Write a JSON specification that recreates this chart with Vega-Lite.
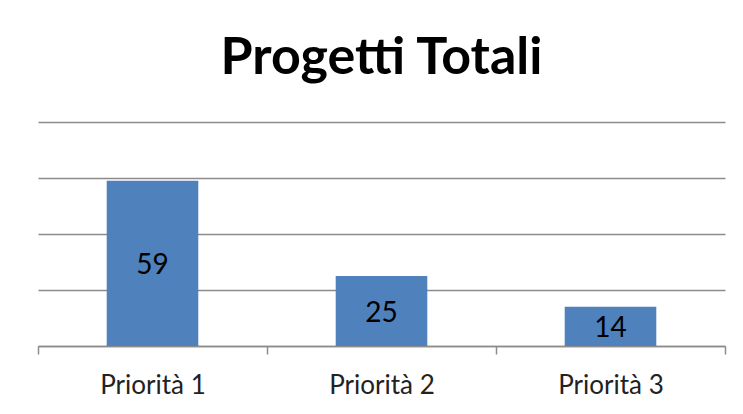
{
  "$schema": "https://vega.github.io/schema/vega-lite/v6.json",
  "width": 687,
  "height": 224,
  "autosize": {"type": "none"},
  "padding": {"left": 38, "top": 122, "right": 18, "bottom": 68},
  "background": "white",
  "title": {
    "text": "Progetti Totali",
    "font": "Lato",
    "fontSize": 52,
    "fontWeight": "bold",
    "color": "#000000",
    "anchor": "middle",
    "baseline": "alphabetic",
    "offset": 46,
    "dy": 50
  },
  "data": {
    "values": [
      {"categoria": "Priorità 1", "progetti": 59},
      {"categoria": "Priorità 2", "progetti": 25},
      {"categoria": "Priorità 3", "progetti": 14}
    ]
  },
  "encoding": {
    "x": {
      "field": "categoria",
      "type": "nominal",
      "sort": null,
      "title": null,
      "scale": {"paddingInner": 0, "paddingOuter": 0},
      "axis": {
        "tickBand": "extent",
        "labelAngle": 0,
        "labelFont": "Lato",
        "labelFontSize": 26,
        "labelColor": "#222222",
        "labelPadding": 18,
        "tickSize": 8,
        "tickColor": "#8c8c8c",
        "domainColor": "#8c8c8c",
        "tickWidth": 1.5,
        "domainWidth": 1.5,
        "grid": false
      }
    }
  },
  "layer": [
    {
      "mark": {"type": "bar", "color": "#4F81BD", "width": {"band": 0.4}},
      "encoding": {
        "y": {
          "field": "progetti",
          "type": "quantitative",
          "scale": {"domain": [0, 80], "nice": false},
          "axis": {
            "values": [0, 20, 40, 60, 80],
            "labels": false,
            "ticks": false,
            "domain": false,
            "title": null,
            "grid": true,
            "gridColor": "#8c8c8c",
            "gridWidth": 1.5
          }
        }
      }
    },
    {
      "mark": {"type": "text", "font": "Lato", "fontSize": 28, "color": "#000000", "baseline": "middle", "dy": 3},
      "encoding": {
        "y": {
          "field": "progetti",
          "type": "quantitative",
          "scale": {"domain": [0, 160], "nice": false},
          "axis": null
        },
        "text": {"field": "progetti", "type": "quantitative"}
      }
    }
  ],
  "resolve": {"scale": {"y": "independent"}},
  "config": {"view": {"stroke": null}}
}
